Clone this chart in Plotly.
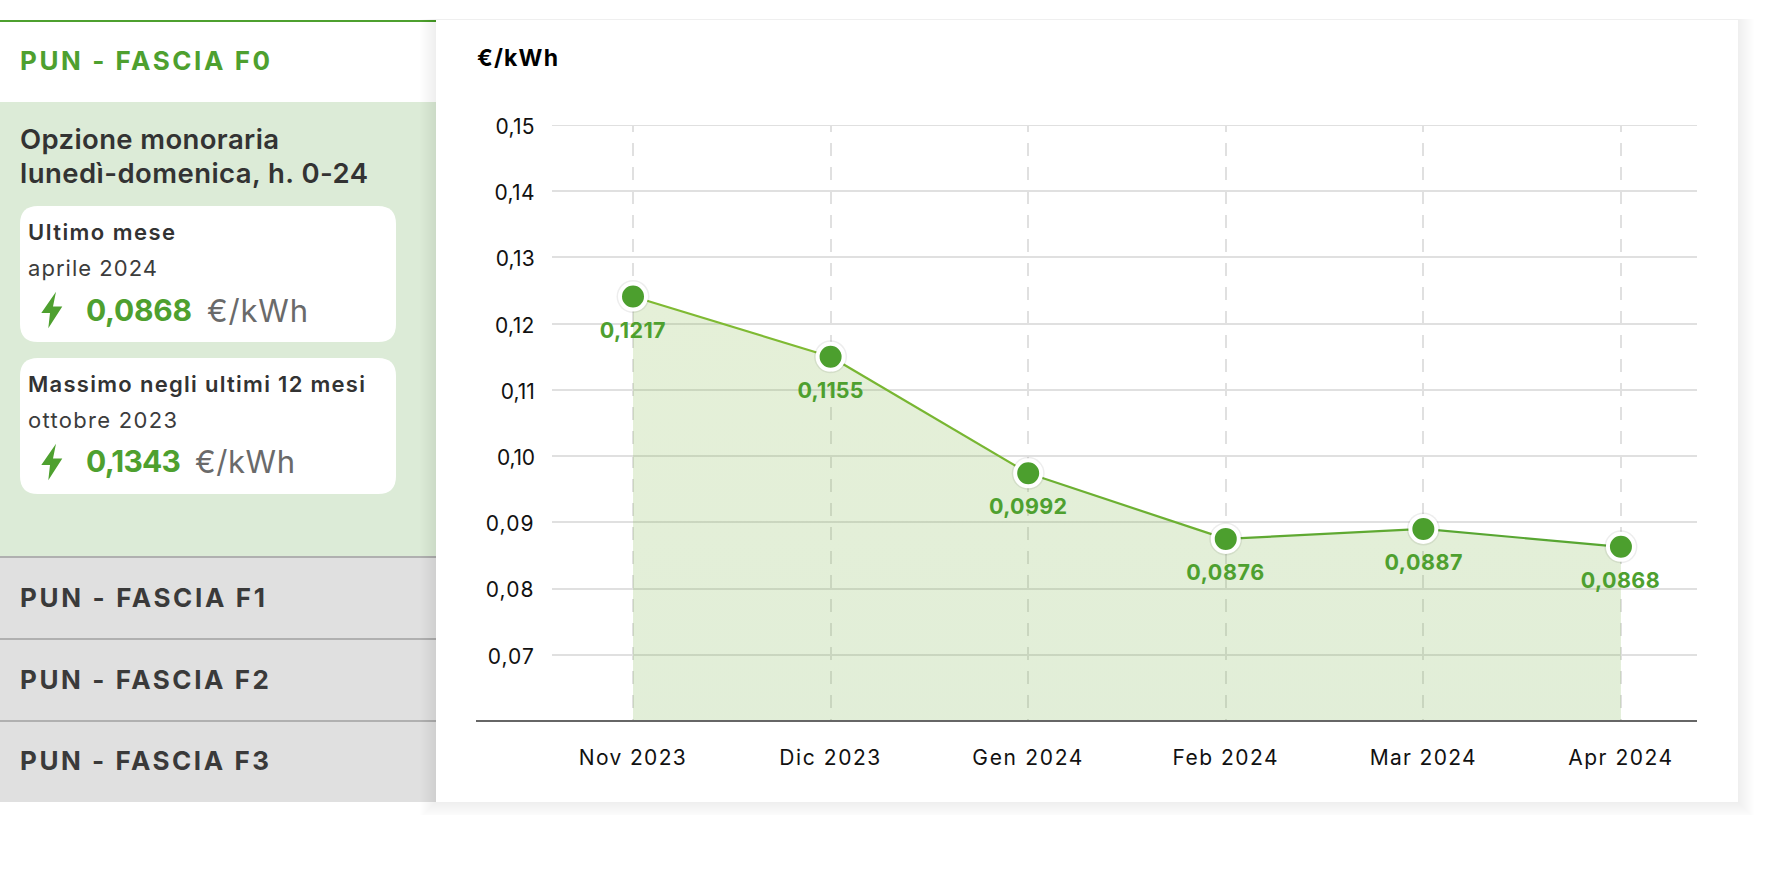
import json
import plotly.graph_objects as go

# ---- chart data ----
categories = ["Nov 2023", "Dic 2023", "Gen 2024", "Feb 2024", "Mar 2024", "Apr 2024"]
values = [0.1241, 0.1150, 0.0974, 0.0875, 0.0890, 0.0863]
value_labels = ["0,1217", "0,1155", "0,0992", "0,0876", "0,0887", "0,0868"]
y_ticks = [0.07, 0.08, 0.09, 0.10, 0.11, 0.12, 0.13, 0.14, 0.15]
y_tick_labels = ["0,07", "0,08", "0,09", "0,10", "0,11", "0,12", "0,13", "0,14", "0,15"]
line_colors = ["#7fba33", "#78b632", "#6cb032", "#5fa932", "#58a632"]

# ---- page geometry (pixels) ----
W, H = 1766, 882
PL, PR, PT, PB = 552, 1697, 125, 721
GREEN, DARK = "#4ea02f", "#333333"
TICK_FONT = "Inter, Liberation Sans, sans-serif"
PANEL_FONT = "Inter, Liberation Sans, sans-serif"


def px(x):
    return (x - PL) / (PR - PL)


def py(y):
    return 1 - (y - PT) / (PB - PT)


shapes, annots, widths = [], [], []


def rect(x0, y0, x1, y1, color, layer="below"):
    shapes.append(dict(type="rect", xref="paper", yref="paper", x0=px(x0), x1=px(x1),
                       y0=py(y1), y1=py(y0), fillcolor=color, line_width=0, layer=layer))


def rrect(x0, y0, x1, y1, r, color):
    a, b, c, d = px(x0), px(x1), py(y0), py(y1)
    rx, ry = r / (PR - PL), r / (PB - PT)
    path = (f"M{a+rx},{c} L{b-rx},{c} Q{b},{c} {b},{c-ry} L{b},{d+ry} Q{b},{d} {b-rx},{d} "
            f"L{a+rx},{d} Q{a},{d} {a},{d+ry} L{a},{c-ry} Q{a},{c} {a+rx},{c} Z")
    shapes.append(dict(type="path", xref="paper", yref="paper", path=path,
                       fillcolor=color, line_width=0, layer="below"))


def bolt(dy):
    pts = [(56, 291.7), (41.3, 313), (50, 313), (48.3, 328.3), (62.3, 306.5), (53, 306.5)]
    path = "M" + " L".join(f"{px(x)},{py(y + dy)}" for x, y in pts) + " Z"
    shapes.append(dict(type="path", xref="paper", yref="paper", path=path,
                       fillcolor=GREEN, line_width=0, layer="below"))


def text(x, y, s, size, color, weight=400, width=None, family=PANEL_FONT):
    annots.append(dict(xref="paper", yref="paper", x=px(x - 2), y=py(y), text=s, showarrow=False,
                       xanchor="left", yanchor="middle", align="left", borderpad=0,
                       font=dict(family=family, size=size, color=color, weight=weight)))
    widths.append(width)


# left column
rect(0, 20, 436, 22, GREEN)
rect(0, 102, 436, 556, "#dcebd7")
rect(0, 556, 436, 802, "#e0e0e0")
for yy in (556, 638, 720):
    rect(0, yy, 436, yy + 2, "#b0b0b0")

# card shadow
for k in range(1, 17):
    rect(436 - k, 20 - min(k, 1), 1738 + k, 802 + min(k, 13), "rgba(0,0,0,0.004)")
# white card
rect(436, 20, 1738, 802, "#ffffff")

# small white cards
rrect(20, 206, 396, 342, 18, "#ffffff")
rrect(20, 358, 396, 494, 18, "#ffffff")
bolt(0)
bolt(152)

text(21, 61, "PUN - FASCIA F0", 26, GREEN, 700, 250)
text(21, 139, "Opzione monoraria", 27.5, DARK, 600, 259)
text(21, 173, "lunedì-domenica, h. 0-24", 27.5, DARK, 600, 348)
text(29, 232, "Ultimo mese", 22, DARK, 600, 147)
text(29, 268, "aprile 2024", 22, "#3c3c3c", 400, 129)
text(87, 310, "0,0868", 30, GREEN, 700, 106)
text(208, 310, "€/kWh", 31, "#6a6a6a", 400, 101)
text(29, 384, "Massimo negli ultimi 12 mesi", 22, DARK, 600, 337)
text(29, 420, "ottobre 2023", 22, "#3c3c3c", 400, 149)
text(87, 461, "0,1343", 30, GREEN, 700, 95)
text(196, 461, "€/kWh", 31, "#6a6a6a", 400, 100)
text(21, 597, "PUN - FASCIA F1", 26, "#3a3a3a", 700, 245)
text(21, 679, "PUN - FASCIA F2", 26, "#3a3a3a", 700, 249)
text(21, 761, "PUN - FASCIA F3", 26, "#3a3a3a", 700, 249)

# chart header, top grid line at the range edge and extended baseline
text(478, 58, "€/kWh", 23, "#000000", 700, 81, TICK_FONT)
shapes.append(dict(type="line", xref="paper", yref="y", x0=0, x1=1, y0=y_ticks[-1], y1=y_ticks[-1],
                   line=dict(color="#e0e0e0", width=2), layer="below"))
shapes.append(dict(type="line", xref="paper", yref="paper", x0=px(476), x1=1, y0=0, y1=0,
                   line=dict(color="#666666", width=2), layer="above"))

# value labels under each marker
label_widths = [66, 66, 78, 78, 78, 79]
for c, v, lab, w in zip(categories, values, value_labels, label_widths):
    annots.append(dict(x=c, y=v, xref="x", yref="y", text=lab, showarrow=False, yshift=-33,
                       xanchor="center", yanchor="middle", align="center",
                       font=dict(family=TICK_FONT, size=21.5, color=GREEN, weight=700)))
    widths.append(w)

fig = go.Figure()
# filled area
fig.add_trace(go.Scatter(
    x=categories, y=values, mode="none", fill="tozeroy", hoverinfo="skip",
    fillgradient=dict(type="vertical", colorscale=[[0, "rgba(105,169,78,0.22)"],
                                                   [1, "rgba(125,180,60,0.2)"]]),
))
# line, one colour per segment
for i, col in enumerate(line_colors):
    fig.add_trace(go.Scatter(x=categories[i:i + 2], y=values[i:i + 2], mode="lines",
                             line=dict(color=col, width=2.2), hoverinfo="skip"))
# marker halo (soft shadow) and markers
fig.add_trace(go.Scatter(x=categories, y=values, mode="markers", hoverinfo="skip",
                         marker=dict(size=33, color="rgba(0,0,0,0.07)", line_width=0)))
fig.add_trace(go.Scatter(x=categories, y=values, mode="markers",
                         marker=dict(size=26, color="#4c9f2e",
                                     line=dict(color="#ffffff", width=4))))

fig.update_layout(
    width=W, height=H, showlegend=False, autosize=False,
    margin=dict(l=PL, r=W - PR, t=PT, b=H - PB, pad=0),
    paper_bgcolor="#ffffff", plot_bgcolor="rgba(0,0,0,0)",
    shapes=shapes, annotations=annots,
    xaxis=dict(type="category", categoryorder="array", categoryarray=categories,
               range=[-0.41, 5.385], showgrid=True, gridcolor="#e0e0e0", gridwidth=2,
               griddash="6.7px,11.5px," + ",".join(["12.5px,11.5px"] * 26),
               zeroline=False, showline=False,
               ticks="outside", ticklen=18, tickcolor="rgba(0,0,0,0)",
               tickfont=dict(family=TICK_FONT, size=21, color="#111111")),
    yaxis=dict(range=[0.06, 0.15], tickmode="array", tickvals=y_ticks, ticktext=y_tick_labels,
               showgrid=True, gridcolor="#e0e0e0", gridwidth=2, zeroline=False, showline=False,
               ticks="outside", ticklen=12, tickcolor="rgba(0,0,0,0)",
               tickfont=dict(family=TICK_FONT, size=21, color="#111111")),
)

# Text in the reference is more widely tracked than the installed fonts: fit widths.
x_tick_widths = dict(zip(categories, [107, 101, 110, 105, 106, 104]))
y_tick_widths = dict(zip(y_tick_labels, [46, 48, 48, 38, 34, 39.5, 39, 40, 39]))
post = """
document.body.style.margin='0';document.body.style.overflow='hidden';
var fit=function(el,w){if(!w)return;var t=el.textContent,l=el.getComputedTextLength();
 el.style.letterSpacing=((w-l)/Math.max(t.length-1,1))+'px';};
var A=%s,X=%s,Y=%s;
document.querySelectorAll('.annotation-text').forEach(function(e,i){fit(e,A[i]);});
document.querySelectorAll('.xtick text').forEach(function(e){fit(e,X[e.textContent]);});
document.querySelectorAll('.ytick text').forEach(function(e){fit(e,Y[e.textContent]);e.setAttribute('dy','1.5');});
""" % (json.dumps(widths), json.dumps(x_tick_widths), json.dumps(y_tick_widths))

fig.write_html("out.html", config=dict(displayModeBar=False), post_script=post)
